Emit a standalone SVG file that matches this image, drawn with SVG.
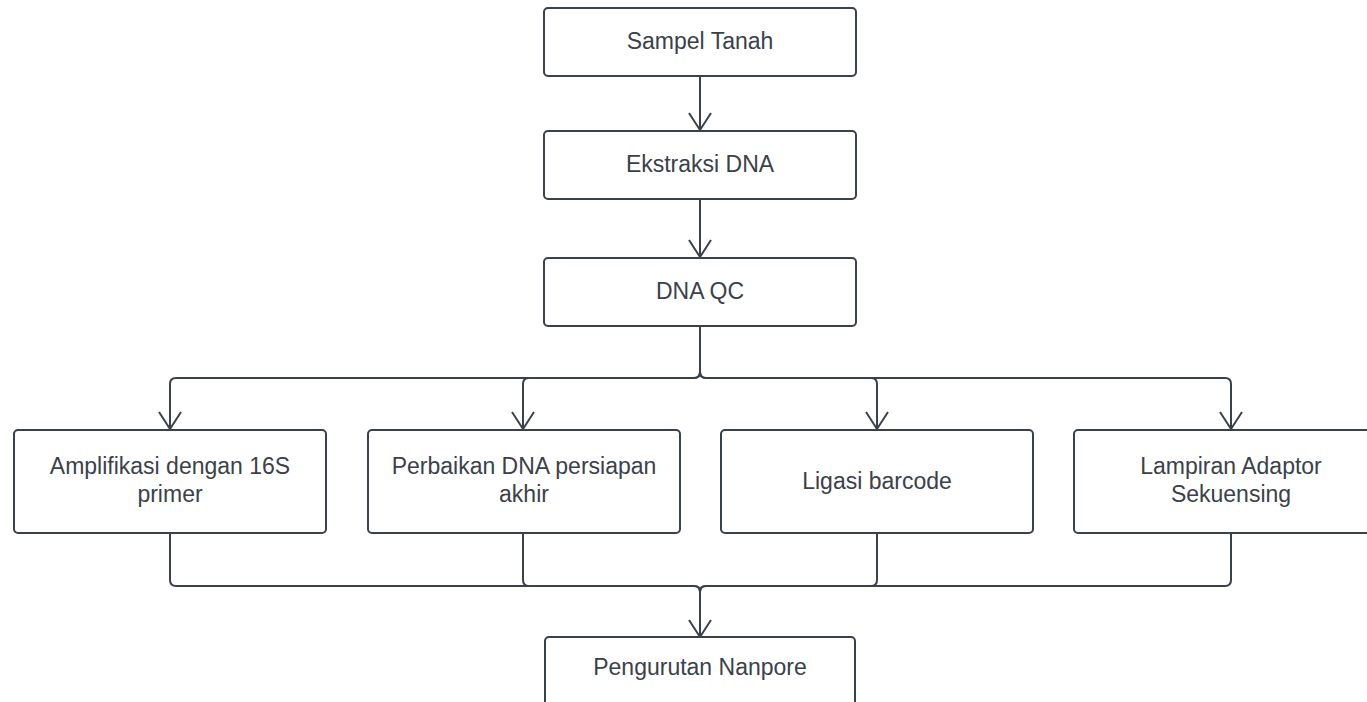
<svg xmlns="http://www.w3.org/2000/svg" width="1367" height="702" viewBox="0 0 1367 702">
<defs>
<style>
.box{fill:#ffffff;stroke:#3a414a;stroke-width:2}
.t{font-family:"Liberation Sans",Arial,sans-serif;font-size:23px;fill:#3a414a;text-anchor:middle}
.c{fill:none;stroke:#3a414a;stroke-width:2}
</style>
</defs>
<rect width="1367" height="702" fill="#ffffff"/>
<g id="connectors">
<path class="c" d="M700 76 V130"/>
<path d="M689 113 L700 130 L711 113" class="c"/>
<path class="c" d="M700 199 V257"/>
<path d="M689 240 L700 257 L711 240" class="c"/>
<path class="c" d="M700 326 V372 Q700 378 694 378 H176 Q170 378 170 384 V429"/>
<path class="c" d="M700 326 V372 Q700 378 694 378 H529 Q523 378 523 384 V429"/>
<path class="c" d="M700 326 V372 Q700 378 706 378 H871 Q877 378 877 384 V429"/>
<path class="c" d="M700 326 V372 Q700 378 706 378 H1225 Q1231 378 1231 384 V429"/>
<path d="M159 412 L170 429 L181 412" class="c"/>
<path d="M512 412 L523 429 L534 412" class="c"/>
<path d="M866 412 L877 429 L888 412" class="c"/>
<path d="M1220 412 L1231 429 L1242 412" class="c"/>
<path class="c" d="M170 533 V580 Q170 586 176 586 H694 Q700 586 700 592 V637"/>
<path class="c" d="M523 533 V580 Q523 586 529 586 H694 Q700 586 700 592 V637"/>
<path class="c" d="M877 533 V580 Q877 586 871 586 H706 Q700 586 700 592 V637"/>
<path class="c" d="M1231 533 V580 Q1231 586 1225 586 H706 Q700 586 700 592 V637"/>
<path d="M689 620 L700 637 L711 620" class="c"/>
</g>
<g id="n1"><rect class="box" x="544" y="8" width="312" height="68" rx="4"/><text class="t" x="700" y="49">Sampel Tanah</text></g>
<g id="n2"><rect class="box" x="544" y="131" width="312" height="68" rx="4"/><text class="t" x="700" y="172">Ekstraksi DNA</text></g>
<g id="n3"><rect class="box" x="544" y="258" width="312" height="68" rx="4"/><text class="t" x="700" y="299">DNA QC</text></g>
<g id="n4"><rect class="box" x="14" y="430" width="312" height="103" rx="4"/><text class="t" x="170" y="474">Amplifikasi dengan 16S</text><text class="t" x="170" y="502">primer</text></g>
<g id="n5"><rect class="box" x="368" y="430" width="312" height="103" rx="4"/><text class="t" x="524" y="474">Perbaikan DNA persiapan</text><text class="t" x="524" y="502">akhir</text></g>
<g id="n6"><rect class="box" x="721" y="430" width="312" height="103" rx="4"/><text class="t" x="877" y="489">Ligasi barcode</text></g>
<g id="n7"><rect class="box" x="1074" y="430" width="312" height="103" rx="4"/><text class="t" x="1231" y="474">Lampiran Adaptor</text><text class="t" x="1231" y="502">Sekuensing</text></g>
<g id="n8"><rect class="box" x="545" y="637" width="310" height="80" rx="4"/><text class="t" x="700" y="675">Pengurutan Nanpore</text></g>
</svg>
